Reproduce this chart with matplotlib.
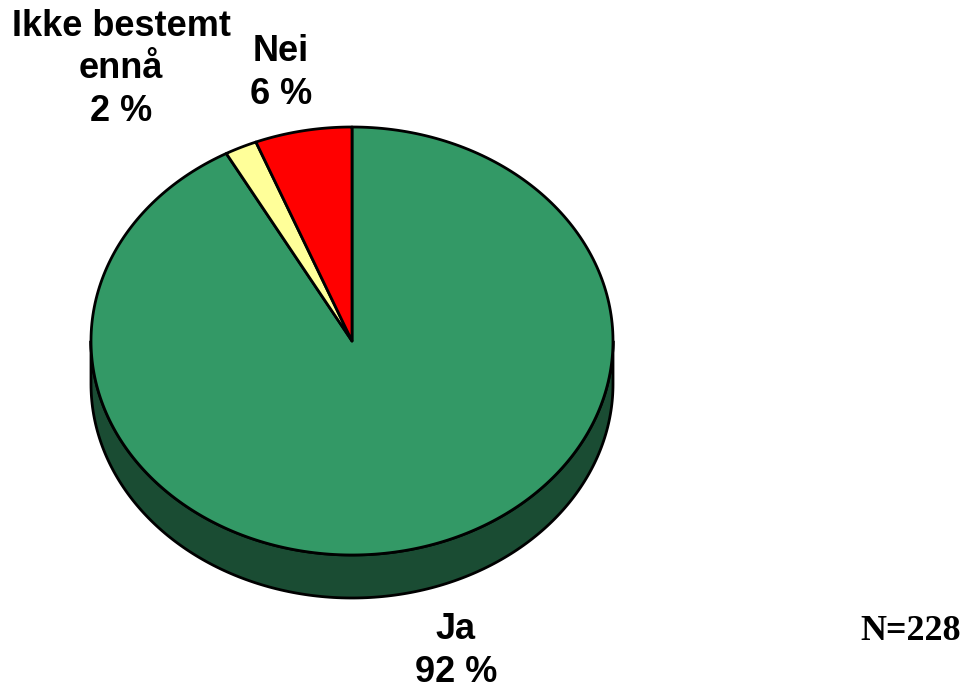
import numpy as np
import matplotlib
import matplotlib.pyplot as plt
from matplotlib.patches import Polygon

matplotlib.use('Agg')

# Data
labels = ['Ja', 'Ikke bestemt\nennå', 'Nei']
values = [92, 2, 6]
colors = ['#339966', '#FFFF99', '#FF0000']
side_colors = ['#1A4C33', '#80804C', '#800000']
n_text = 'N=228'

# Pie geometry (pixel coordinates)
cx, cy = 352, 341
rx, ry = 261, 214
depth = 43


def ell(t):
    # t in degrees, clockwise from 12 o'clock
    r = np.radians(t)
    return cx + rx * np.sin(r), cy - ry * np.cos(r)


fig = plt.figure(figsize=(9.66, 6.88), dpi=100)
ax = fig.add_axes([0, 0, 1, 1])
ax.set_xlim(0, 966)
ax.set_ylim(688, 0)
ax.axis('off')

fracs = np.array(values) / sum(values)
bounds = np.concatenate([[0], np.cumsum(fracs) * 360])

# Side walls (front half: 90..270 degrees)
for i in range(len(values)):
    a0, a1 = max(bounds[i], 90), min(bounds[i + 1], 270)
    if a1 <= a0:
        continue
    t = np.linspace(a0, a1, 200)
    x, y = ell(t)
    pts = np.column_stack([np.concatenate([x, x[::-1]]),
                           np.concatenate([y, y[::-1] + depth])])
    ax.add_patch(Polygon(pts, closed=True, facecolor=side_colors[i],
                         edgecolor='black', linewidth=2, joinstyle='round'))

# Top faces
for i in range(len(values)):
    t = np.linspace(bounds[i], bounds[i + 1], 300)
    x, y = ell(t)
    pts = np.column_stack([np.concatenate([[cx], x]), np.concatenate([[cy], y])])
    ax.add_patch(Polygon(pts, closed=True, facecolor=colors[i],
                         edgecolor='black', linewidth=2, joinstyle='round'))

# Labels
font = dict(family='Liberation Sans', fontsize=26, fontweight='bold',
            ha='center', va='center', linespacing=1.26)
ax.text(456, 651, f'{labels[0]}\n{values[0]} %', **font)
ax.text(121, 69, f'{labels[1]}\n{values[1]} %', **font)
ax.text(281, 73, f'{labels[2]}\n{values[2]} %', **font)
ax.text(911, 632, n_text, family='Liberation Serif', fontsize=26,
        fontweight='bold', ha='center', va='center')

plt.savefig('out.png', dpi=100)
